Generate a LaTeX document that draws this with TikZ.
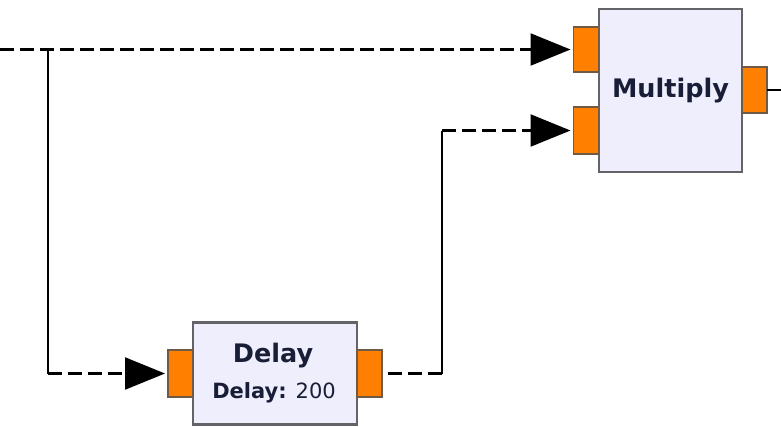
\documentclass[tikz,border=0pt]{standalone}
\usepackage{fontspec}
\setmainfont{DejaVu Sans}
\usepackage{xcolor}
\usetikzlibrary{arrows.meta, positioning, calc}

\definecolor{blockfill}{RGB}{238,238,253}
\definecolor{blockline}{RGB}{100,100,104}
\definecolor{portfill}{RGB}{255,128,0}
\definecolor{portline}{RGB}{110,90,70}
\definecolor{blocktext}{RGB}{25,30,55}

\begin{document}
\begin{tikzpicture}[x=1pt, y=-1pt,
		block/.style={draw=blockline, line width=2.2pt, fill=blockfill, inner sep=0pt, outer sep=0pt, text=blocktext, align=center},
		port/.style={draw=portline, line width=1.4pt, fill=portfill, minimum width=25pt, minimum height=46pt, inner sep=0pt, outer sep=0pt},
		wire/.style={line width=2.2pt, black},
		dash wire/.style={wire, dash pattern=on 14pt off 6pt},
		into/.style={-{Triangle[length=40pt, width=32pt]}, shorten >=3pt}]
		\useasboundingbox (0,0) rectangle (781,426);

		% Blocks
		\node[block, minimum width=143pt, minimum height=163pt] (mul) at (670.5,90.5) {\fontsize{25.5}{27}\selectfont\bfseries Multiply};
		\node[block, minimum width=164pt, minimum height=102pt] (delay) at (275,373.5) {};
		\node[text=blocktext] (delayname) at (273,356) {\fontsize{25.5}{27}\selectfont\bfseries Delay};
		\node[text=blocktext] (delayval) at (274,393) {\fontsize{21}{23}\selectfont\textbf{Delay:} 200};

		% Ports
		\node[port, minimum height=45pt] (mulin1) at (586,49.5) {};
		\node[port, minimum height=47pt] (mulin2) at (586,130.5) {};
		\node[port] (mulout) at (754.5,90) {};
		\node[port, minimum height=47pt] (delin) at (180.5,373.5) {};
		\node[port, minimum height=47pt] (delout) at (369.5,373.5) {};

		% Wire corners
		\coordinate (src) at (0,49.5);
		\coordinate (split) at (48,49.5);
		\coordinate (low) at (48,373.5);
		\coordinate (up1) at (442,373.5);
		\coordinate (up2) at (442,130.5);
		\coordinate (sink) at (781,90);

		% Connections
		\draw[dash wire, into] (src) -- (mulin1);
		\draw[wire] (split) -- (low);
		\draw[dash wire, into] (low) -- (delin);
		\draw[dash wire] (up1) -- (delout);
		\draw[wire] (up1) -- (up2);
		\draw[dash wire, into] (up2) -- (mulin2);
		\draw[wire] (mulout) -- (sink);
	  \end{tikzpicture}
\end{document}
